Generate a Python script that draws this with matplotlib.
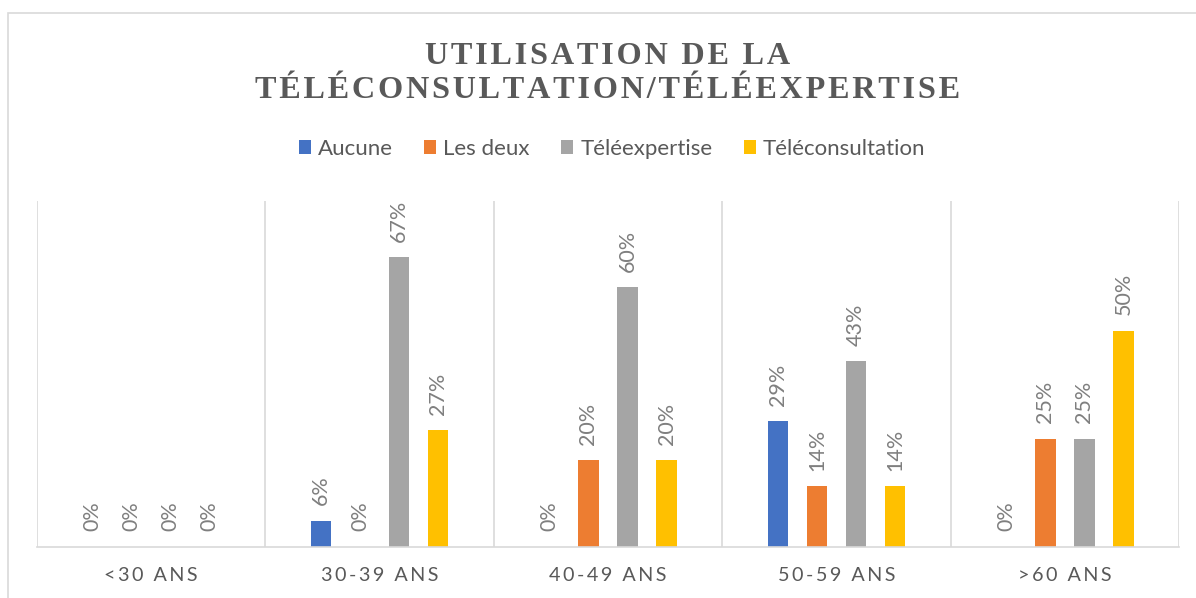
import numpy as np
import matplotlib
matplotlib.use("Agg")
import matplotlib.pyplot as plt
from matplotlib.patches import Patch, Rectangle

# data (percent)
categories = ["<30 ANS", "30-39 ANS", "40-49 ANS", "50-59 ANS", ">60 ANS"]
series_names = ["Aucune", "Les deux", "Téléexpertise", "Téléconsultation"]
aucune = [0, 6, 0, 29, 0]
les_deux = [0, 0, 20, 14, 25]
teleexpertise = [0, 67, 60, 43, 25]
teleconsultation = [0, 27, 20, 14, 50]
colors = ["#4472C4", "#ED7D31", "#A5A5A5", "#FFC000"]

HAIR = "\u200a"
THIN = "\u2009"


def spaced(s, sep):
    return sep.join(list(s))


sans = ["Lato", "DejaVu Sans"]
serif = ["Liberation Serif", "DejaVu Serif"]

W, H = 1196, 598
fig = plt.figure(figsize=(W / 100, H / 100), dpi=100)

# chart frame (cut off at right/bottom like the screenshot)
fig.patches.append(Rectangle((8 / W, -0.05), 1.2, 1 - 12.5 / H + 0.05,
                             transform=fig.transFigure, fill=False,
                             edgecolor="#D9D9D9", lw=1.2))

ax = fig.add_axes([37 / W, (H - 546.5) / H, (1179 - 37) / W, (546.5 - 201) / H])

x = np.arange(len(categories))
pitch = 0.171
width = 0.09
all_series = [aucune, les_deux, teleexpertise, teleconsultation]
for i, vals in enumerate(all_series):
    pos = x + (i - 1.5) * pitch
    ax.bar(pos, vals, width, color=colors[i], zorder=2)
    for px, v in zip(pos, vals):
        ax.annotate(f"{v}%", (px, v), xytext=(0, 11), textcoords="offset points",
                    rotation=90, ha="center", va="bottom", fontsize=15.5,
                    color="#7F7F7F", family=sans)

ax.set_xlim(-0.5, len(categories) - 0.5)
ax.set_ylim(0, 80)
ax.vlines(np.arange(len(categories) + 1) - 0.5, 0, 80, color="#D9D9D9", lw=1.2, zorder=1)
for s in ["top", "left", "right"]:
    ax.spines[s].set_visible(False)
ax.spines["bottom"].set_color("#D9D9D9")
ax.spines["bottom"].set_linewidth(1.2)
ax.set_yticks([])
ax.set_xticks(x, [spaced(c, THIN) for c in categories])
ax.tick_params(axis="x", length=0, pad=15, labelsize=14.2, labelcolor="#595959")
for lab in ax.get_xticklabels():
    lab.set_family(sans)

title = spaced("UTILISATION DE LA", HAIR) + "\n" + spaced("TÉLÉCONSULTATION/TÉLÉEXPERTISE", HAIR)
fig.text(608 / W, 1 - 73.5 / H, title, ha="center", va="center", fontsize=23.2,
         fontweight="bold", color="#595959", family=serif, linespacing=1.27)

handles = [Patch(facecolor=c) for c in colors]
leg = fig.legend(handles, series_names, loc="center", bbox_to_anchor=(612 / W, 1 - 149 / H),
                 ncol=4, frameon=False, handlelength=0.55, handleheight=0.55,
                 handletextpad=0.32, columnspacing=1.4, prop={"family": sans, "size": 16})
for t in leg.get_texts():
    t.set_color("#595959")

fig.savefig("out.png", dpi=100)
